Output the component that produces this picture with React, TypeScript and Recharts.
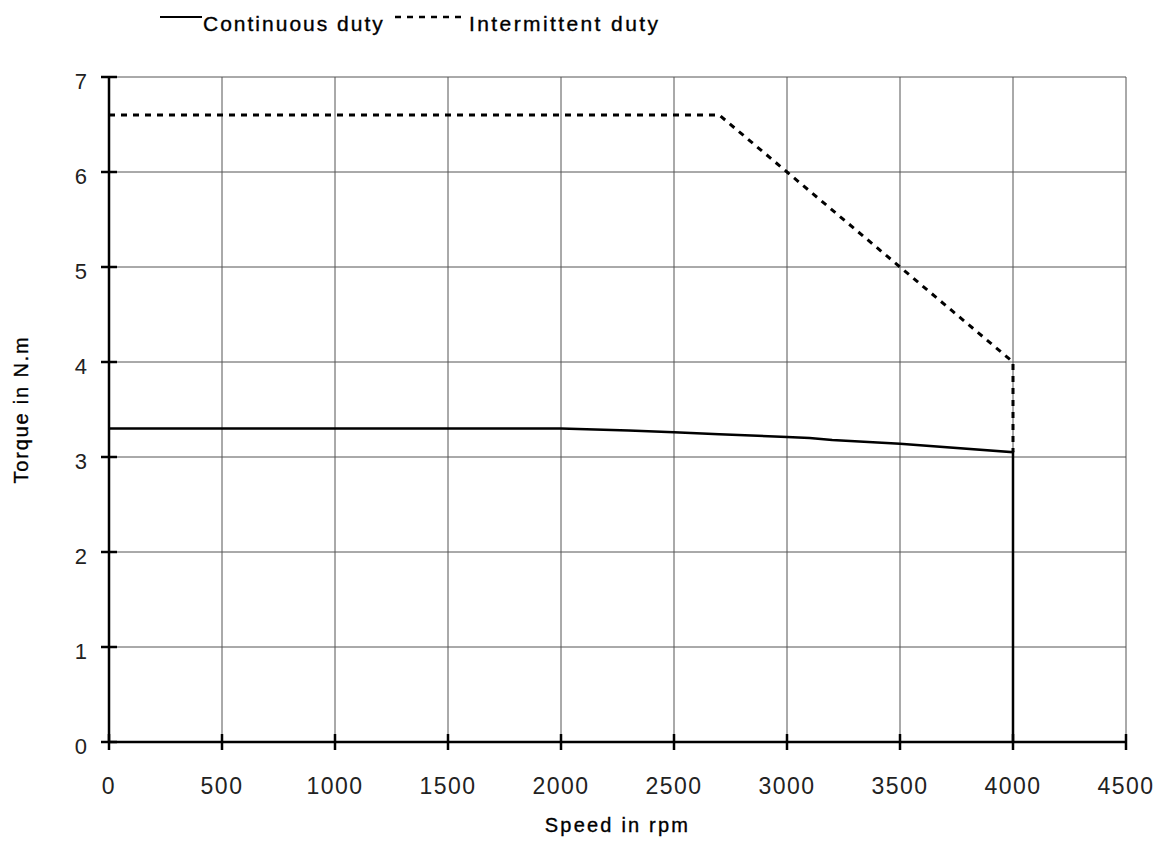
import React from "react";
import { CartesianGrid, Label, Legend, Line, LineChart, XAxis, YAxis } from "recharts";

const speedTicks = [0, 500, 1000, 1500, 2000, 2500, 3000, 3500, 4000, 4500];
const torqueTicks = [0, 1, 2, 3, 4, 5, 6, 7];

const continuousSpeed = [0, 2000, 2300, 2500, 2700, 3000, 3100, 3200, 3500, 4000, 4000];
const continuousTorque = [3.3, 3.3, 3.28, 3.26, 3.24, 3.21, 3.2, 3.18, 3.14, 3.05, 0];

const intermittentSpeed = [0, 2700, 3000, 3500, 4000, 4000];
const intermittentTorque = [6.6, 6.6, 6.0, 5.0, 4.0, 3.05];

const continuous = continuousSpeed.map((speed, i) => ({ speed, torque: continuousTorque[i] }));
const intermittent = intermittentSpeed.map((speed, i) => ({ speed, torque: intermittentTorque[i] }));

const FONT = "'Liberation Sans', Arial, sans-serif";
const DASH = "6 6";

function XTick({ x, y, payload }: any) {
  return (
    <g>
      <line x1={x} x2={x} y1={y - 8} y2={y + 8} stroke="#000" strokeWidth={2.5} />
      <text x={x} y={y + 52} textAnchor="middle" fontFamily={FONT} fontSize={23} letterSpacing={1.5} fill="#222">
        {payload.value}
      </text>
    </g>
  );
}

function YTick({ x, y, payload }: any) {
  return (
    <g>
      <line x1={x - 8} x2={x + 8} y1={y} y2={y} stroke="#000" strokeWidth={2.5} />
      <text x={x - 22} y={y + 12} textAnchor="end" fontFamily={FONT} fontSize={22} fill="#222">
        {payload.value}
      </text>
    </g>
  );
}

function ChartLegend() {
  return (
    <svg width={580} height={40} style={{ display: "block" }}>
      <line x1={10} x2={52} y1={17} y2={17} stroke="#000" strokeWidth={2} />
      <text x={53} y={31} fontFamily={FONT} fontSize={21} letterSpacing={2} fill="#000" stroke="#000" strokeWidth={0.35}>
        Continuous duty
      </text>
      <line x1={245} x2={315} y1={17} y2={17} stroke="#000" strokeWidth={2.5} strokeDasharray={DASH} />
      <text x={319} y={31} fontFamily={FONT} fontSize={21} letterSpacing={2.4} fill="#000" stroke="#000" strokeWidth={0.35}>
        Intermittent duty
      </text>
    </svg>
  );
}

export default function App() {
  return (
    <div style={{ position: "absolute", left: 0, top: 0, background: "#fff" }}>
      <LineChart width={1160} height={866} margin={{ top: 77, right: 34, bottom: 0, left: 0 }}>
        <CartesianGrid stroke="#555" strokeWidth={1} />
        <XAxis
          dataKey="speed"
          type="number"
          domain={[0, 4500]}
          ticks={speedTicks}
          height={124}
          tickSize={0}
          tickMargin={0}
          tickLine={false}
          axisLine={{ stroke: "#000", strokeWidth: 2.5 }}
          tick={<XTick />}
          interval={0}
        >
          <Label
            content={({ viewBox }: any) => (
              <text
                x={viewBox.x + viewBox.width / 2}
                y={viewBox.y + 90}
                textAnchor="middle"
                fontFamily={FONT}
                fontSize={20}
                letterSpacing={2.2}
                fill="#000"
                stroke="#000"
                strokeWidth={0.35}
              >
                Speed in rpm
              </text>
            )}
          />
        </XAxis>
        <YAxis
          type="number"
          domain={[0, 7]}
          ticks={torqueTicks}
          width={109}
          tickSize={0}
          tickMargin={0}
          tickLine={false}
          axisLine={{ stroke: "#000", strokeWidth: 2.5 }}
          tick={<YTick />}
          interval={0}
        >
          <Label
            content={({ viewBox }: any) => {
              const cx = 28;
              const cy = viewBox.y + viewBox.height / 2;
              return (
                <text
                  x={cx}
                  y={cy}
                  transform={`rotate(-90 ${cx} ${cy})`}
                  textAnchor="middle"
                  fontFamily={FONT}
                  fontSize={20}
                  letterSpacing={1.8}
                  fill="#000"
                  stroke="#000"
                  strokeWidth={0.35}
                >
                  Torque in N.m
                </text>
              );
            }}
          />
        </YAxis>
        <Legend
          layout="horizontal"
          verticalAlign="middle"
          align="center"
          wrapperStyle={{ left: 150, top: 0, width: 580 }}
          content={() => <ChartLegend />}
        />
        <Line
          data={continuous}
          dataKey="torque"
          name="Continuous duty"
          type="linear"
          stroke="#000"
          strokeWidth={2.5}
          dot={false}
          isAnimationActive={false}
        />
        <Line
          data={intermittent}
          dataKey="torque"
          name="Intermittent duty"
          type="linear"
          stroke="#000"
          strokeWidth={3}
          strokeDasharray={DASH}
          dot={false}
          isAnimationActive={false}
        />
      </LineChart>
    </div>
  );
}
